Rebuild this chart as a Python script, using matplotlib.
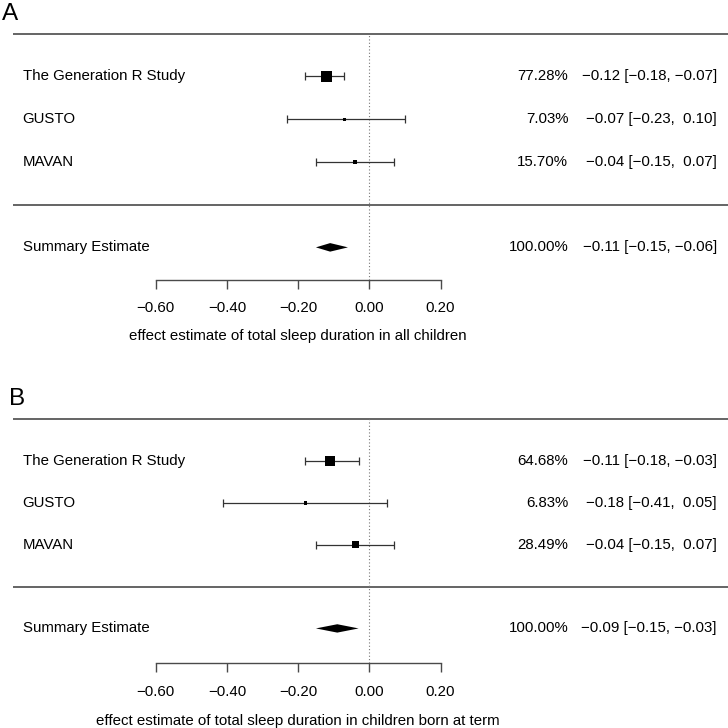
import matplotlib
matplotlib.use("Agg")
import matplotlib.pyplot as plt
from matplotlib.patches import Polygon

plt.rcParams["font.family"] = ["Liberation Sans", "DejaVu Sans"]
plt.rcParams["font.size"] = 10.8

STUDIES = ["The Generation R Study", "GUSTO", "MAVAN"]

# Panel A: all children
A_EST = [-0.12, -0.07, -0.04]
A_LOW = [-0.18, -0.23, -0.15]
A_HIGH = [-0.07, 0.10, 0.07]
A_WEIGHT = [77.28, 7.03, 15.70]
A_SUMMARY = [-0.11, -0.15, -0.06]  # estimate, lower, upper
A_XLABEL = "effect estimate of total sleep duration in all children"

# Panel B: children born at term
B_EST = [-0.11, -0.18, -0.04]
B_LOW = [-0.18, -0.41, -0.15]
B_HIGH = [-0.03, 0.05, 0.07]
B_WEIGHT = [64.68, 6.83, 28.49]
B_SUMMARY = [-0.09, -0.15, -0.03]
B_XLABEL = "effect estimate of total sleep duration in children born at term"

XTICKS = [-0.6, -0.4, -0.2, 0.0, 0.2]

LINE = "#4a4a4a"
DPI = 100


def fmt(v, pad=True):
    s = f"{v:.2f}".replace("-", "\u2212")
    if pad and v >= 0:
        s = " " + s
    return s


def forest(ax, est, low, high, weight, summary, xlabel, ylim, axis_y, xlab_off):
    ax.set_xlim(-1.0374, 1.0076)
    ax.set_ylim(*ylim)
    k = len(est)
    rows = list(range(k, 0, -1))

    # separator rules
    ax.hlines([k + 1, 0], -1.0, 1.0076, color=LINE, lw=1.2)
    # reference line at zero
    ax.plot([0, 0], [axis_y, k + 1], color="#777777", lw=0.8, ls=(0, (1, 2)))

    # study CIs and squares
    wmax = max(weight)
    for r, e, lo, hi, w, name in zip(rows, est, low, high, weight, STUDIES):
        ax.errorbar(e, r, xerr=[[e - lo], [hi - e]], fmt="none",
                    ecolor="#333333", elinewidth=0.9, capsize=2.6, capthick=0.9)
        side = 10.5 * (w / wmax) ** 0.5 * 72 / DPI
        ax.scatter([e], [r], marker="s", s=side ** 2, color="black", zorder=3,
                   edgecolors="none")
        ax.text(-0.974, r, name, ha="left", va="center")
        ax.text(0.559, r, f"{w:.2f}%", ha="right", va="center")
        ax.text(0.976, r, f"{fmt(e, False)} [{fmt(lo, False)}, {fmt(hi)}]",
                ha="right", va="center")

    # summary diamond
    s_est, s_lo, s_hi = summary
    h = 0.1
    ax.add_patch(Polygon([(s_lo, -1), (s_est, -1 + h), (s_hi, -1), (s_est, -1 - h)],
                         closed=True, color="black", lw=0))
    ax.text(-0.974, -1, "Summary Estimate", ha="left", va="center")
    ax.text(0.559, -1, f"{100:.2f}%", ha="right", va="center")
    ax.text(0.976, -1, f"{fmt(s_est, False)} [{fmt(s_lo, False)}, {fmt(s_hi)}]",
            ha="right", va="center")

    # x axis
    for side in ["left", "top", "right"]:
        ax.spines[side].set_visible(False)
    ax.spines["bottom"].set_position(("data", axis_y))
    ax.spines["bottom"].set_bounds(XTICKS[0], XTICKS[-1])
    ax.spines["bottom"].set_color(LINE)
    ax.spines["bottom"].set_linewidth(1.0)
    ax.set_xticks(XTICKS)
    ax.set_xticklabels([fmt(t, False) for t in XTICKS])
    ax.tick_params(axis="x", length=6.5, width=1.0, color=LINE, pad=9)
    ax.tick_params(axis="y", left=False, labelleft=False)
    ax.text((XTICKS[0] + XTICKS[-1]) / 2, axis_y - xlab_off, xlabel,
            ha="center", va="center")


fig = plt.figure(figsize=(7.28, 7.28), dpi=DPI)
ax_a = fig.add_axes([0, 0.5, 1, 0.5])
ax_b = fig.add_axes([0, 0, 1, 0.5])

forest(ax_a, A_EST, A_LOW, A_HIGH, A_WEIGHT, A_SUMMARY, A_XLABEL,
       (-3.73, 4.79), -1.76, 1.31)
forest(ax_b, B_EST, B_LOW, B_HIGH, B_WEIGHT, B_SUMMARY, B_XLABEL,
       (-3.38, 5.32), -1.83, 1.38)

fig.text(0.003, 1 - 14.5 / 728, "A", fontsize=17.5, ha="left", va="center")
fig.text(0.013, 1 - 398.5 / 728, "B", fontsize=17.5, ha="left", va="center")

fig.savefig("out.png", dpi=DPI, facecolor="white")
